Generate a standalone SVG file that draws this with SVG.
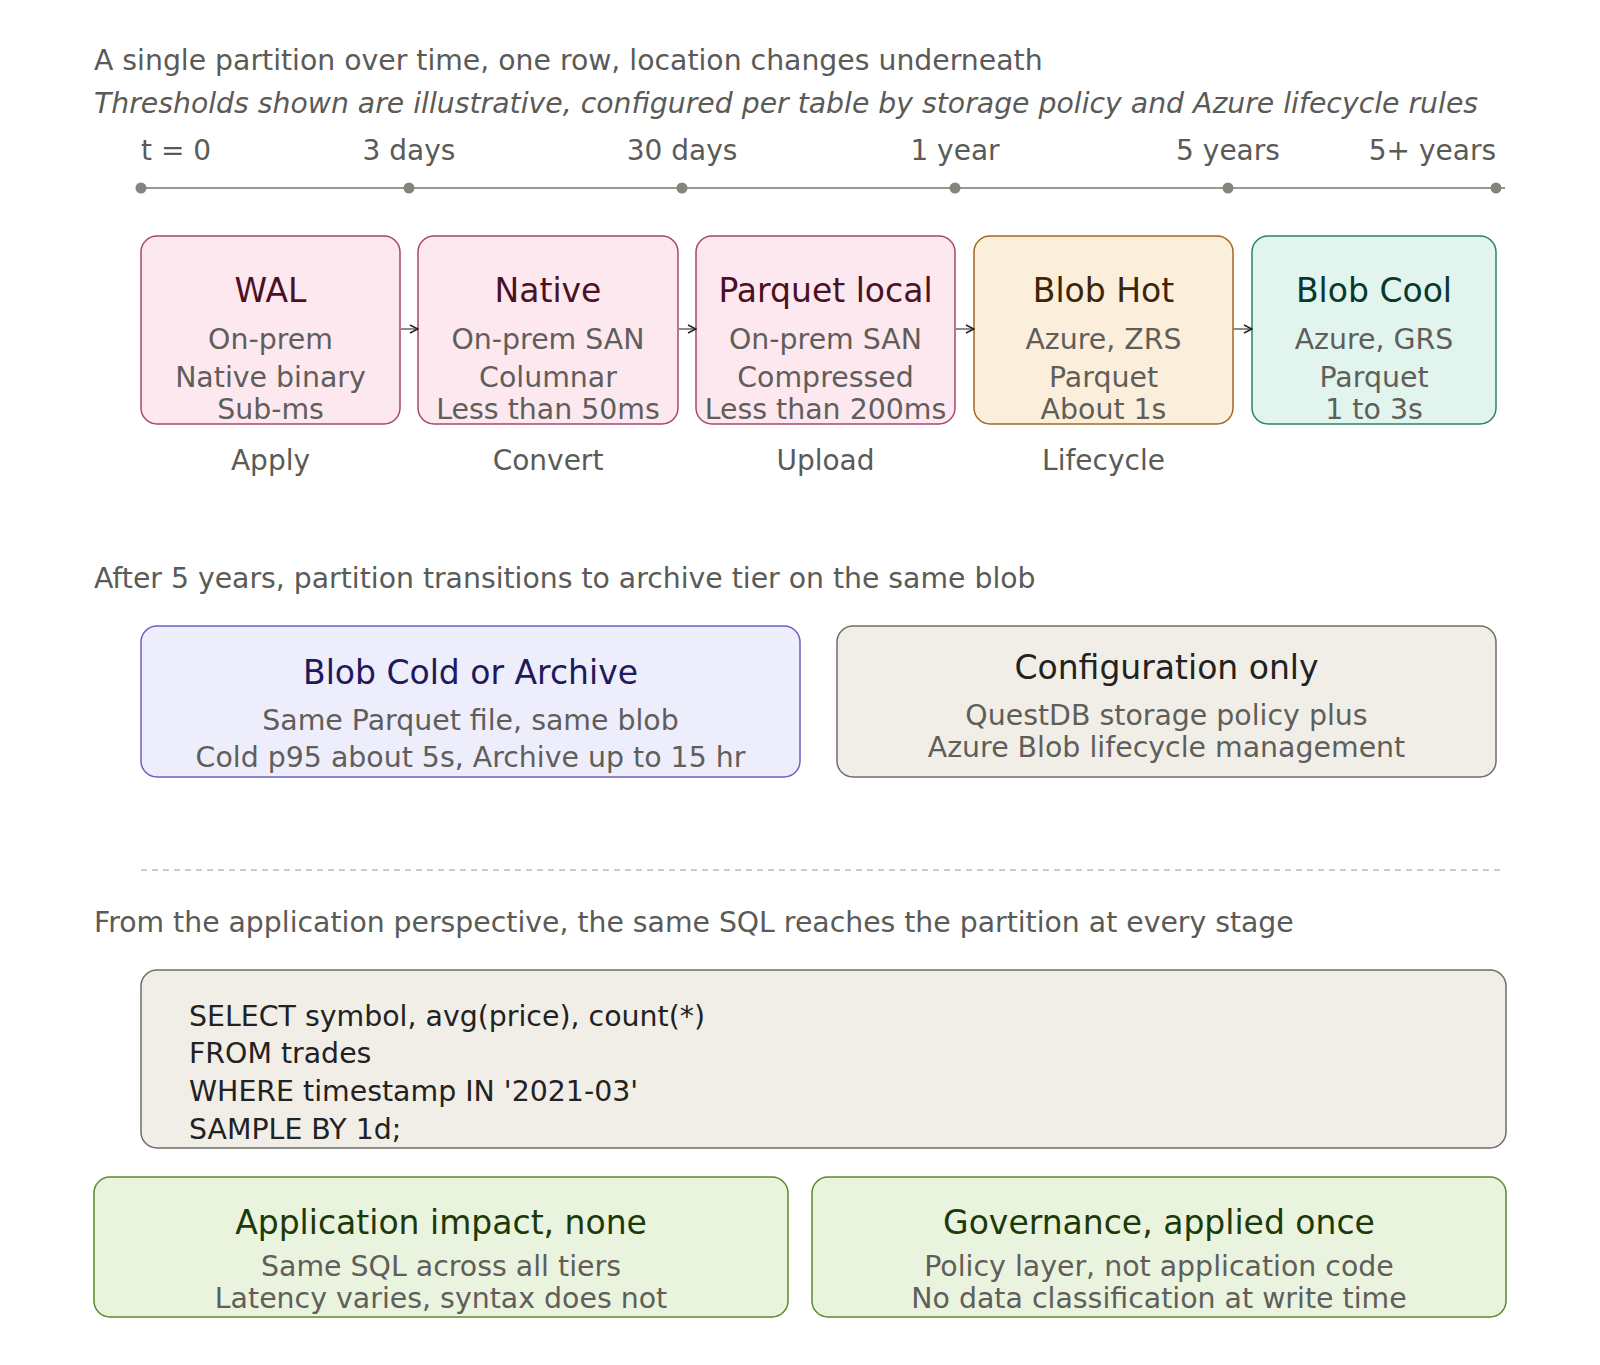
<svg xmlns="http://www.w3.org/2000/svg" width="1600" height="1365" viewBox="0 0 1600 1365">
<defs>
<marker id="arr" viewBox="0 0 10 10" refX="9" refY="5" markerWidth="10" markerHeight="10" markerUnits="userSpaceOnUse" orient="auto">
<path d="M1,1 L9,5 L1,9" fill="none" stroke="#222" stroke-width="1.5"/>
</marker>
</defs>
<style>
text{font-family:"DejaVu Sans","Liberation Sans",sans-serif;}
.h{font-size:28.3px;fill:#5a5a56;}
.hi{font-size:28.3px;fill:#5a5a56;font-style:italic;}
.tl{font-size:28px;fill:#5a5a56;}
.t{font-size:33px;text-anchor:middle;}
.b{font-size:28.4px;fill:#5f5e5a;text-anchor:middle;}
.lab{font-size:28px;fill:#5a5a56;text-anchor:middle;}
.code{font-size:28.4px;fill:#222;}
.pink{fill:#fce8ee;stroke:#a8466e;stroke-width:1.5;}
.amber{fill:#fbeedb;stroke:#a0691f;stroke-width:1.5;}
.teal{fill:#e1f4ed;stroke:#2a8463;stroke-width:1.5;}
.purple{fill:#eeedfc;stroke:#6a5fc4;stroke-width:1.5;}
.gray{fill:#f1eee8;stroke:#6e6d66;stroke-width:1.5;}
.green{fill:#eaf3de;stroke:#5a8a2e;stroke-width:1.5;}
.conn{stroke:#8c8c86;stroke-width:2;fill:none;}
</style>
<g id="headings">
<text class="h" x="94" y="70">A single partition over time, one row, location changes underneath</text>
<text class="hi" x="94" y="113">Thresholds shown are illustrative, configured per table by storage policy and Azure lifecycle rules</text>
<text class="h" x="94" y="588">After 5 years, partition transitions to archive tier on the same blob</text>
<text class="h" x="94" y="932">From the application perspective, the same SQL reaches the partition at every stage</text>
</g>
<g id="timeline">
<line x1="141" y1="188" x2="1505" y2="188" stroke="#999990" stroke-width="2"/>
<g fill="#85857e">
<circle cx="141" cy="188" r="5.5"/>
<circle cx="409" cy="188" r="5.5"/>
<circle cx="682" cy="188" r="5.5"/>
<circle cx="955" cy="188" r="5.5"/>
<circle cx="1228" cy="188" r="5.5"/>
<circle cx="1496" cy="188" r="5.5"/>
</g>
<text class="tl" x="141" y="160">t = 0</text>
<text class="tl" x="409" y="160" text-anchor="middle">3 days</text>
<text class="tl" x="682" y="160" text-anchor="middle">30 days</text>
<text class="tl" x="955" y="160" text-anchor="middle">1 year</text>
<text class="tl" x="1228" y="160" text-anchor="middle">5 years</text>
<text class="tl" x="1496" y="160" text-anchor="end">5+ years</text>
</g>
<g id="node-wal">
<rect class="pink" x="141" y="236" width="259" height="188" rx="16"/>
<text class="t" x="270.5" y="302" fill="#4b1024">WAL</text>
<text class="b" x="270.5" y="349">On-prem</text>
<text class="b" x="270.5" y="387">Native binary</text>
<text class="b" x="270.5" y="419">Sub-ms</text>
</g>
<g id="node-native">
<rect class="pink" x="418" y="236" width="260" height="188" rx="16"/>
<text class="t" x="548" y="302" fill="#4b1024">Native</text>
<text class="b" x="548" y="349">On-prem SAN</text>
<text class="b" x="548" y="387">Columnar</text>
<text class="b" x="548" y="419">Less than 50ms</text>
</g>
<g id="node-parquet">
<rect class="pink" x="696" y="236" width="259" height="188" rx="16"/>
<text class="t" x="825.5" y="302" fill="#4b1024">Parquet local</text>
<text class="b" x="825.5" y="349">On-prem SAN</text>
<text class="b" x="825.5" y="387">Compressed</text>
<text class="b" x="825.5" y="419">Less than 200ms</text>
</g>
<g id="node-blobhot">
<rect class="amber" x="974" y="236" width="259" height="188" rx="16"/>
<text class="t" x="1103.5" y="302" fill="#3d2508">Blob Hot</text>
<text class="b" x="1103.5" y="349">Azure, ZRS</text>
<text class="b" x="1103.5" y="387">Parquet</text>
<text class="b" x="1103.5" y="419">About 1s</text>
</g>
<g id="node-blobcool">
<rect class="teal" x="1252" y="236" width="244" height="188" rx="16"/>
<text class="t" x="1374" y="302" fill="#07392d">Blob Cool</text>
<text class="b" x="1374" y="349">Azure, GRS</text>
<text class="b" x="1374" y="387">Parquet</text>
<text class="b" x="1374" y="419">1 to 3s</text>
</g>
<g id="transition-labels">
<text class="lab" x="270.5" y="470">Apply</text>
<text class="lab" x="548" y="470">Convert</text>
<text class="lab" x="825.5" y="470">Upload</text>
<text class="lab" x="1103.5" y="470">Lifecycle</text>
</g>
<g id="connectors">
<line class="conn" x1="400" y1="329" x2="418" y2="329" marker-end="url(#arr)"/>
<line class="conn" x1="678" y1="329" x2="696" y2="329" marker-end="url(#arr)"/>
<line class="conn" x1="955" y1="329" x2="974" y2="329" marker-end="url(#arr)"/>
<line class="conn" x1="1233" y1="329" x2="1252" y2="329" marker-end="url(#arr)"/>
</g>
<g id="node-archive">
<rect class="purple" x="141" y="626" width="659" height="151" rx="16"/>
<text class="t" x="470.5" y="684" fill="#1f1a5c">Blob Cold or Archive</text>
<text class="b" x="470.5" y="730">Same Parquet file, same blob</text>
<text class="b" x="470.5" y="767">Cold p95 about 5s, Archive up to 15 hr</text>
</g>
<g id="node-config">
<rect class="gray" x="837" y="626" width="659" height="151" rx="16"/>
<text class="t" x="1166.5" y="679" fill="#222">Configuration only</text>
<text class="b" x="1166.5" y="725">QuestDB storage policy plus</text>
<text class="b" x="1166.5" y="757">Azure Blob lifecycle management</text>
</g>
<g id="divider">
<line x1="141" y1="870" x2="1505" y2="870" stroke="#bdbdb6" stroke-width="1.5" stroke-dasharray="6 5"/>
</g>
<g id="node-sql">
<rect class="gray" x="141" y="970" width="1365" height="178" rx="16"/>
<text class="code" x="189" y="1026">SELECT symbol, avg(price), count(*)</text>
<text class="code" x="189" y="1063">FROM trades</text>
<text class="code" x="189" y="1101">WHERE timestamp IN '2021-03'</text>
<text class="code" x="189" y="1139">SAMPLE BY 1d;</text>
</g>
<g id="node-impact">
<rect class="green" x="94" y="1177" width="694" height="140" rx="16"/>
<text class="t" x="441" y="1234" fill="#1c3a08">Application impact, none</text>
<text class="b" x="441" y="1276">Same SQL across all tiers</text>
<text class="b" x="441" y="1308">Latency varies, syntax does not</text>
</g>
<g id="node-governance">
<rect class="green" x="812" y="1177" width="694" height="140" rx="16"/>
<text class="t" x="1159" y="1234" fill="#1c3a08">Governance, applied once</text>
<text class="b" x="1159" y="1276">Policy layer, not application code</text>
<text class="b" x="1159" y="1308">No data classification at write time</text>
</g>
</svg>
